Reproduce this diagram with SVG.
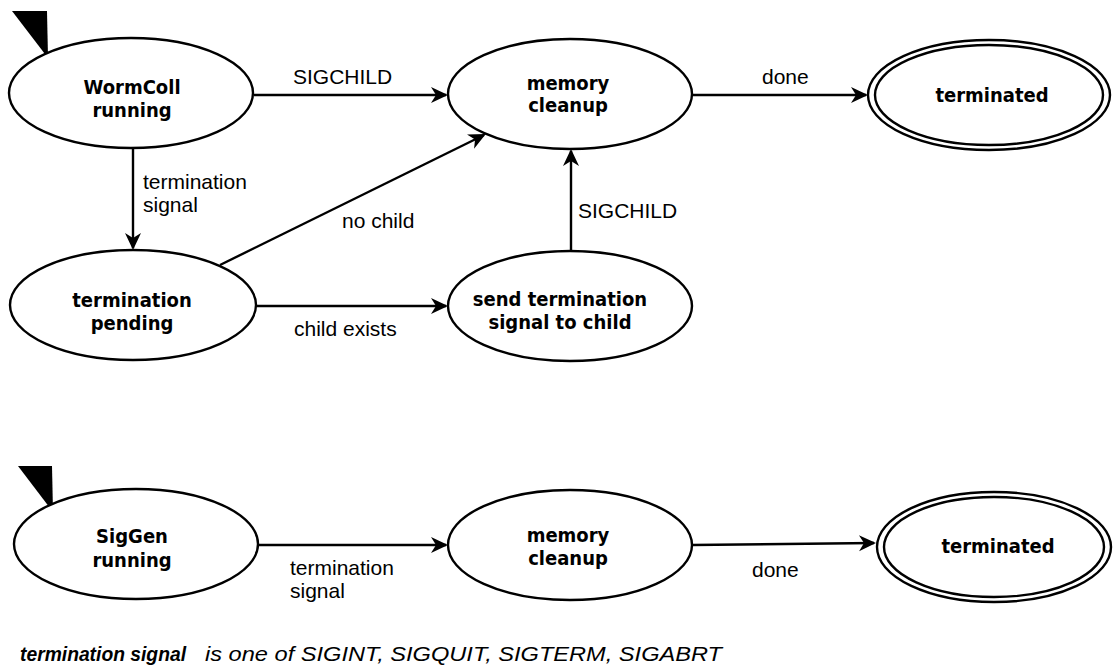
<svg xmlns="http://www.w3.org/2000/svg" width="1113" height="668" viewBox="0 0 1113 668">
<defs>
<style>
.st{fill:#fff;stroke:#000;stroke-width:2.4}
.n{font-family:"DejaVu Sans","Liberation Sans",sans-serif;font-weight:bold;font-size:20px;text-anchor:middle;fill:#000}
.e{font-family:"Liberation Sans",Arial,sans-serif;font-size:21px;fill:#000}
.c{fill:none;stroke:#000;stroke-width:2.4}
.f{font-family:"Liberation Sans",Arial,sans-serif;font-size:20px;font-style:italic;fill:#000}
</style>
<marker id="ah" viewBox="-18 -10 22 20" refX="0" refY="0" markerWidth="22" markerHeight="20" markerUnits="userSpaceOnUse" orient="auto">
<path d="M2,0 L-15,-8 L-10,0 L-15,8 Z" fill="#000"/>
</marker>
</defs>
<rect width="1113" height="668" fill="#fff"/>

<g id="connectors">
<path class="c" d="M254,95 H446" marker-end="url(#ah)"/>
<path class="c" d="M693,95 H866" marker-end="url(#ah)"/>
<path class="c" d="M133,148 V248" marker-end="url(#ah)"/>
<path class="c" d="M220,265 L484,135" marker-end="url(#ah)"/>
<path class="c" d="M257,306 H446" marker-end="url(#ah)"/>
<path class="c" d="M571,252 V151" marker-end="url(#ah)"/>
<path class="c" d="M258,545 H446" marker-end="url(#ah)"/>
<path class="c" d="M692,545 L874,543" marker-end="url(#ah)"/>
<text class="e" x="293" y="84">SIGCHILD</text>
<text class="e" x="762" y="84">done</text>
<text class="e" x="143" y="189">termination</text>
<text class="e" x="143" y="212">signal</text>
<text class="e" x="342" y="228">no child</text>
<text class="e" x="578" y="218">SIGCHILD</text>
<text class="e" x="294" y="336">child exists</text>
<text class="e" x="290" y="575">termination</text>
<text class="e" x="290" y="598">signal</text>
<text class="e" x="752" y="577">done</text>
</g>

<g id="init1"><polygon points="12,11 47,11 48,58" fill="#000"/></g>
<g id="init2"><polygon points="18,466 52,466 53,512" fill="#000"/></g>

<g id="wormcoll-running">
<ellipse class="st" cx="131" cy="93" rx="122" ry="55"/>
<text class="n" transform="translate(132,0) scale(0.9,1)" y="94">WormColl</text>
<text class="n" transform="translate(132,0) scale(0.9,1)" y="117">running</text>
</g>

<g id="memory-cleanup-1">
<ellipse class="st" cx="570" cy="94" rx="122" ry="55"/>
<text class="n" transform="translate(568,0) scale(0.9,1)" y="90">memory</text>
<text class="n" transform="translate(568,0) scale(0.9,1)" y="112">cleanup</text>
</g>

<g id="terminated-1">
<ellipse class="st" cx="989" cy="95" rx="121" ry="55"/>
<ellipse class="st" cx="989" cy="95" rx="114" ry="50"/>
<text class="n" transform="translate(992,0) scale(0.9,1)" y="102">terminated</text>
</g>

<g id="termination-pending">
<ellipse class="st" cx="133" cy="305" rx="123" ry="55"/>
<text class="n" transform="translate(132,0) scale(0.9,1)" y="307">termination</text>
<text class="n" transform="translate(132,0) scale(0.9,1)" y="330">pending</text>
</g>

<g id="send-termination">
<ellipse class="st" cx="570" cy="306" rx="122" ry="55"/>
<text class="n" transform="translate(560,0) scale(0.9,1)" y="306">send termination</text>
<text class="n" transform="translate(560,0) scale(0.9,1)" y="329">signal to child</text>
</g>

<g id="siggen-running">
<ellipse class="st" cx="136" cy="544" rx="122" ry="55"/>
<text class="n" transform="translate(132,0) scale(0.9,1)" y="543">SigGen</text>
<text class="n" transform="translate(132,0) scale(0.9,1)" y="567">running</text>
</g>

<g id="memory-cleanup-2">
<ellipse class="st" cx="570" cy="545" rx="122" ry="55"/>
<text class="n" transform="translate(568,0) scale(0.9,1)" y="542">memory</text>
<text class="n" transform="translate(568,0) scale(0.9,1)" y="565">cleanup</text>
</g>

<g id="terminated-2">
<ellipse class="st" cx="994" cy="547" rx="117" ry="55"/>
<ellipse class="st" cx="994" cy="547" rx="110" ry="50"/>
<text class="n" transform="translate(998,0) scale(0.9,1)" y="553">terminated</text>
</g>

<g id="footnote">
<text class="f" x="20" y="661"><tspan font-weight="bold" textLength="166" lengthAdjust="spacingAndGlyphs">termination signal</tspan></text>
<text class="f" x="205" y="661" textLength="517" lengthAdjust="spacingAndGlyphs">is one of SIGINT, SIGQUIT, SIGTERM, SIGABRT</text>
</g>
</svg>
